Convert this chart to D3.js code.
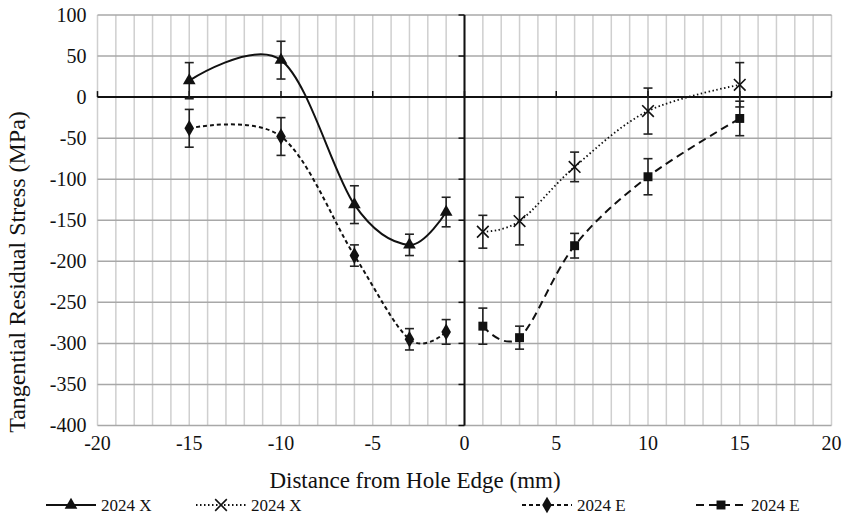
<!DOCTYPE html>
<html><head><meta charset="utf-8">
<script src="https://cdn.jsdelivr.net/npm/d3@7"></script>
<style>
html,body{margin:0;padding:0;background:#fff;}
text{font-family:"Liberation Serif","Times New Roman",serif;fill:#111;}
</style></head>
<body>
<svg id="c" width="856" height="526"></svg>
<script>
// ---- data ----
const xLeft = [-15, -10, -6, -3, -1];
const xRight = [1, 3, 6, 10, 15];
const xSolid = [20, 45, -131, -180, -140];
const xSolidErr = [22, 23, 23, 13, 18];
const xDotted = [-164, -151, -85, -17, 15];
const xDottedErr = [20, 29, 18, 28, 27];
const eDiamond = [-38, -48, -193, -295, -286];
const eDiamondErr = [23, 23, 13, 13, 15];
const eSquare = [-279, -293, -181, -97, -26];
const eSquareErr = [22, 14, 15, 22, 21];
const legendLabels = ["2024 X", "2024 X", "2024 E", "2024 E"];
const xTicks = [-20, -15, -10, -5, 0, 5, 10, 15, 20];
const yTicks = [100, 50, 0, -50, -100, -150, -200, -250, -300, -350, -400];
const xTitle = "Distance from Hole Edge (mm)";
const yTitle = "Tangential Residual Stress (MPa)";

const svg = d3.select("#c");
const L = 97.5, R = 831.5, T = 15, B = 425.5;
const x = d3.scaleLinear().domain([-20, 20]).range([L, R]);
const y = d3.scaleLinear().domain([-400, 100]).range([B, T]);

// grid
const g = svg.append("g");
g.selectAll(".vg").data(d3.range(-20, 21, 1)).join("line")
  .attr("x1", d => x(d)).attr("x2", d => x(d)).attr("y1", T).attr("y2", B)
  .attr("stroke", "#cfcfcf").attr("stroke-width", 1.5);
g.selectAll(".hg").data(yTicks).join("line")
  .attr("x1", L).attr("x2", R).attr("y1", d => y(d)).attr("y2", d => y(d))
  .attr("stroke", "#a8a8a8").attr("stroke-width", 1.5);

// axes through zero
const ax = svg.append("g");
ax.append("line").attr("x1", x(-20)).attr("x2", x(20)).attr("y1", y(0)).attr("y2", y(0))
  .attr("stroke", "#111").attr("stroke-width", 2);
ax.append("line").attr("x1", x(0)).attr("x2", x(0)).attr("y1", y(100)).attr("y2", y(-400))
  .attr("stroke", "#111").attr("stroke-width", 2);
ax.selectAll(".xt").data(xTicks).join("line")
  .attr("x1", d => x(d)).attr("x2", d => x(d)).attr("y1", y(0)).attr("y2", y(0) - 6)
  .attr("stroke", "#111").attr("stroke-width", 1.5);
ax.selectAll(".yt").data(yTicks).join("line")
  .attr("x1", x(0) - 6).attr("x2", x(0)).attr("y1", d => y(d)).attr("y2", d => y(d))
  .attr("stroke", "#111").attr("stroke-width", 1.5);

// tick labels
svg.selectAll(".xl").data(xTicks).join("text")
  .attr("x", d => x(d)).attr("y", B + 24).attr("text-anchor", "middle")
  .attr("font-size", 20).text(d => d);
svg.selectAll(".yl").data(yTicks).join("text")
  .attr("x", L - 11).attr("y", d => y(d) + 6.5).attr("text-anchor", "end")
  .attr("font-size", 20).text(d => d);

// titles
svg.append("text").attr("x", 415).attr("y", 488).attr("text-anchor", "middle")
  .attr("font-size", 23).text(xTitle);
svg.append("text").attr("transform", `translate(25,272) rotate(-90)`)
  .attr("text-anchor", "middle").attr("font-size", 24).text(yTitle);

// series
const series = [
  {xs: xLeft, v: xSolid, e: xSolidErr, dash: null, w: 2, m: "tri"},
  {xs: xRight, v: xDotted, e: xDottedErr, dash: "1.5,2.5", w: 1.8, m: "cross"},
  {xs: xLeft, v: eDiamond, e: eDiamondErr, dash: "4,3", w: 2, m: "dia"},
  {xs: xRight, v: eSquare, e: eSquareErr, dash: "8,5", w: 2, m: "sq"}
];
const line = d3.line().x(d => x(d[0])).y(d => y(d[1])).curve(d3.curveCardinal.tension(0));
const sym = {
  tri: d3.symbol().type(d3.symbolTriangle).size(70),
  cross: d3.symbol().type(d3.symbolX).size(90),
  dia: d3.symbol().type(d3.symbolDiamond).size(80),
  sq: d3.symbol().type(d3.symbolSquare).size(80)
};
function marker(sel, m) {
  const p = sel.append("path").attr("d", sym[m]());
  if (m === "cross") p.attr("fill", "none").attr("stroke", "#111").attr("stroke-width", 1.6);
  else p.attr("fill", "#111");
  return p;
}
series.forEach(s => {
  const pts = s.xs.map((xx, i) => [xx, s.v[i], s.e[i]]);
  const gs = svg.append("g");
  pts.forEach(p => {
    gs.append("line").attr("x1", x(p[0])).attr("x2", x(p[0]))
      .attr("y1", y(p[1] + p[2])).attr("y2", y(p[1] - p[2]))
      .attr("stroke", "#222").attr("stroke-width", 1.6);
    [p[1] + p[2], p[1] - p[2]].forEach(v => {
      gs.append("line").attr("x1", x(p[0]) - 4.5).attr("x2", x(p[0]) + 4.5)
        .attr("y1", y(v)).attr("y2", y(v)).attr("stroke", "#222").attr("stroke-width", 1.6);
    });
  });
  gs.append("path").datum(pts).attr("d", line).attr("fill", "none")
    .attr("stroke", "#111").attr("stroke-width", s.w)
    .attr("stroke-dasharray", s.dash);
  pts.forEach(p => {
    marker(gs, s.m).attr("transform", `translate(${x(p[0])},${y(p[1])})`);
  });
});

// legend
const legX = [46, 196, 522, 696];
const legY = 505;
series.forEach((s, i) => {
  const lg = svg.append("g").attr("transform", `translate(${legX[i]},${legY})`);
  lg.append("line").attr("x1", 0).attr("x2", 50).attr("y1", 0).attr("y2", 0)
    .attr("stroke", "#111").attr("stroke-width", s.w).attr("stroke-dasharray", s.dash);
  marker(lg, s.m).attr("transform", "translate(25,0)");
  lg.append("text").attr("x", 55).attr("y", 6).attr("font-size", 17).text(legendLabels[i]);
});
</script>
</body></html>
